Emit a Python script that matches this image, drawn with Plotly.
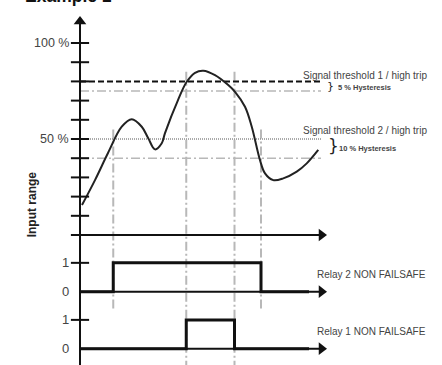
import plotly.graph_objects as go

# ---------------- data ----------------
# input signal (time units, % of input range)
curve_t = [0.8, 6, 11.2, 16.7, 20.7, 24.7, 27.3, 30, 32.7, 34, 39.2, 42.7, 46,
           49.3, 54, 59.3, 62, 66, 68.7, 72, 74, 77.3, 81.3, 86.7, 90.7, 95.3]
curve_pct = [15.6, 28.6, 42.7, 56.4, 60.3, 56.4, 50.4, 44.6, 47.8, 53.1, 70.3, 79.8, 84.5,
             85.6, 83.3, 78.1, 74.6, 66.8, 56.4, 39, 32.1, 28.6, 29.5, 33, 37.3, 44.3]

tick_pct = [0, 10, 20, 30, 40, 50, 60, 70, 80, 90, 100]
tick_label_pct = [100, 50]
tick_label_text = ["100 %", "50 %"]

threshold1 = 80      # Signal threshold 1
hyst1 = 75           # 5 % hysteresis
threshold2 = 50      # Signal threshold 2
hyst2 = 40           # 10 % hysteresis

relay_names = ["Relay 2 NON FAILSAFE", "Relay 1 NON FAILSAFE"]
relay_base = [-29.5, -59.2]
relay_t = [[0, 13.3, 72.4, 91.6], [0, 42.5, 61.8, 91.6]]
relay_state = [[0, 1, 0, 0], [0, 1, 0, 0]]
RELAY_H = 15

switch_t = [13.3, 42.5, 61.8, 72.4]
switch_top = [55, 85, 85, 55]
switch_bottom = [-39, -68, -68, -39]

AXIS_END = 96.6
LINE_END = 96.4
AXIS_TOP = 111.2
AXIS_BOTTOM = -68

FONT = "Liberation Sans, Arial, Helvetica, sans-serif"
BRACE_FONT = "DejaVu Sans, Liberation Sans, sans-serif"
GRAY = "#b8b8b8"

fig = go.Figure()

# vertical switching guides
vx, vy = [], []
for t, a, b in zip(switch_t, switch_top, switch_bottom):
    vx += [t, t, None]
    vy += [a, b, None]
fig.add_trace(go.Scatter(x=vx, y=vy, mode="lines",
                         line=dict(color=GRAY, width=2, dash="9px,3px,2px,3px"), hoverinfo="skip"))

# thresholds and hysteresis
fig.add_trace(go.Scatter(x=[0, LINE_END], y=[hyst1, hyst1], mode="lines",
                         line=dict(color=GRAY, width=1.6, dash="9px,3px,2px,3px")))
fig.add_trace(go.Scatter(x=[0, LINE_END], y=[hyst2, hyst2], mode="lines",
                         line=dict(color=GRAY, width=1.6, dash="9px,3px,2px,3px")))
fig.add_trace(go.Scatter(x=[0, LINE_END], y=[threshold2, threshold2], mode="lines",
                         line=dict(color="#555555", width=1, dash="1px,1px")))
fig.add_trace(go.Scatter(x=[0, LINE_END], y=[threshold1, threshold1], mode="lines",
                         line=dict(color="#111111", width=2, dash="6px,3px")))

# signal curve
fig.add_trace(go.Scatter(x=curve_t, y=curve_pct, mode="lines",
                         line=dict(color="#222222", width=2, shape="spline", smoothing=1)))

# vertical axis with arrow
fig.add_trace(go.Scatter(x=[0, 0], y=[AXIS_BOTTOM, AXIS_TOP], mode="lines",
                         line=dict(color="#111111", width=2)))
fig.add_trace(go.Scatter(x=[0], y=[AXIS_TOP], mode="markers",
                         marker=dict(symbol="triangle-up", size=11, color="#111111")))

# horizontal axes with arrows
for base in [0] + relay_base:
    fig.add_trace(go.Scatter(x=[0, AXIS_END], y=[base, base], mode="lines",
                             line=dict(color="#111111", width=2)))
    fig.add_trace(go.Scatter(x=[AXIS_END], y=[base], mode="markers",
                             marker=dict(symbol="triangle-right", size=11, color="#111111")))

# ticks
tick_y = tick_pct + [b + RELAY_H for b in relay_base]
fig.add_trace(go.Scatter(x=[0] * len(tick_y), y=tick_y, mode="markers",
                         marker=dict(symbol="line-ew", size=13,
                                     line=dict(color="#111111", width=2))))

# relay outputs
for base, ts, st in zip(relay_base, relay_t, relay_state):
    fig.add_trace(go.Scatter(x=ts, y=[base + s * RELAY_H for s in st], mode="lines",
                             line=dict(color="#111111", width=3, shape="hv")))

ann = []
def label(x, y, text, size=14, color="#444444", xanchor="right", bold=False, angle=0,
          xref="x", yref="y", yanchor="middle", family=FONT):
    ann.append(dict(x=x, y=y, xref=xref, yref=yref, text=text, showarrow=False,
                    xanchor=xanchor, yanchor=yanchor, textangle=angle,
                    font=dict(family=family, size=size, color=color,
                              weight="bold" if bold else "normal")))

for v, txt in zip(tick_label_pct, tick_label_text):
    label(-3.6, v, txt, size=12.5)
for base in relay_base:
    label(-3.6, base + RELAY_H, "1", size=13)
    label(-3.6, base, "0", size=13)

label(-19.2, 16, "Input range", size=12, color="#222222", xanchor="center", bold=True, angle=-90)
label(0.155, 1 - 8.5 / 365, "Example 1", size=17.5, color="#111111", xanchor="center", bold=True,
      xref="paper", yref="paper", yanchor="bottom")

label(88.2, 83.3, "Signal threshold 1 / high trip", size=10, xanchor="left")
label(98.0, 77.3, "}", size=11, xanchor="left", color="#222222", family=BRACE_FONT)
label(102.4, 76.6, "5 % Hysteresis", size=7.5, xanchor="left", bold=True, color="#444444")
label(88.2, 54.3, "Signal threshold 2 / high trip", size=10, xanchor="left")
label(98.2, 46.2, "}", size=17, xanchor="left", color="#222222", family=BRACE_FONT)
label(102.8, 45.2, "10 % Hysteresis", size=7.5, xanchor="left", bold=True, color="#444444")
for name, base in zip(relay_names, relay_base):
    label(93.8, base + 0.58 * RELAY_H, name, size=10, xanchor="left")

fig.update_layout(
    width=442, height=365, margin=dict(l=0, r=0, t=0, b=0),
    paper_bgcolor="white", plot_bgcolor="white", showlegend=False,
    xaxis=dict(range=[-32, 144.8], visible=False, fixedrange=True),
    yaxis=dict(range=[-67.7, 122.4], visible=False, fixedrange=True),
    annotations=ann,
)
fig.write_html("out.html", config={"displayModeBar": False, "staticPlot": True},
               post_script="document.body.style.margin='0px';")
